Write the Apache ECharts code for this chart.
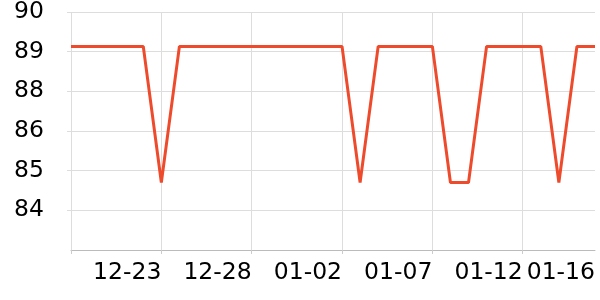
<!DOCTYPE html>
<html>
<head>
<meta charset="utf-8">
<script src="https://cdn.jsdelivr.net/npm/echarts@6/dist/echarts.min.js"></script>
<style>html,body{margin:0;padding:0;background:#fff}#c{width:600px;height:300px}</style>
</head>
<body>
<div id="c"></div>
<script>
var dates = ['12-18','12-19','12-20','12-21','12-22','12-23','12-24','12-25','12-26','12-27',
             '12-28','12-29','12-30','12-31','01-01','01-02','01-03','01-04','01-05','01-06',
             '01-07','01-08','01-09','01-10','01-11','01-12','01-13','01-14','01-15','01-16'];
var values = [88.96,88.96,88.96,88.96,88.96,84.84,88.96,88.96,88.96,88.96,
              88.96,88.96,88.96,88.96,88.96,88.96,84.84,88.96,88.96,88.96,
              88.96,84.84,84.84,88.96,88.96,88.96,88.96,84.84,88.96,88.96];
var labelDates = ['12-23','12-28','01-02','01-07','01-12','01-16'];
var gridDates = ['12-18','12-23','12-28','01-02','01-07','01-12'];
var yMin = 82.8, yMax = 90, yStep = 1.2;

var chart = echarts.init(document.getElementById('c'), null, {renderer: 'canvas'});
var font = 'DejaVu Sans';
function isGrid(i) { return gridDates.indexOf(dates[i]) >= 0; }
chart.setOption({
  animation: false,
  grid: {left: 71, right: 5, top: 10, bottom: 50, containLabel: false},
  xAxis: {
    type: 'category',
    data: dates,
    boundaryGap: false,
    axisLine: {show: true, lineStyle: {color: '#bbb', width: 1}},
    axisTick: {show: true, length: 4, interval: function (i) { return isGrid(i); }, lineStyle: {color: '#ccc'}},
    splitLine: {show: true, interval: function (i) { return isGrid(i); }, lineStyle: {color: '#ddd', width: 1}},
    axisLabel: {
      interval: function (i, v) { return labelDates.indexOf(v) >= 0; },
      align: 'right',
      color: '#000', fontFamily: font, fontSize: 23.5, margin: 11
    }
  },
  yAxis: {
    type: 'value',
    min: yMin, max: yMax, interval: yStep,
    axisLine: {show: false},
    axisTick: {show: true, length: 4, lineStyle: {color: '#ddd'}},
    splitLine: {show: true, lineStyle: {color: '#ddd', width: 1}},
    axisLabel: {
      formatter: function (v) { return Math.round(v).toString(); },
      showMinLabel: false,
      color: '#000', fontFamily: font, fontSize: 23.5, margin: 27
    }
  },
  series: [{
    type: 'line',
    data: values,
    showSymbol: false,
    symbol: 'none',
    lineStyle: {color: '#ee4a2c', width: 3},
    itemStyle: {color: '#ee4a2c'}
  }]
});
</script>
</body>
</html>
